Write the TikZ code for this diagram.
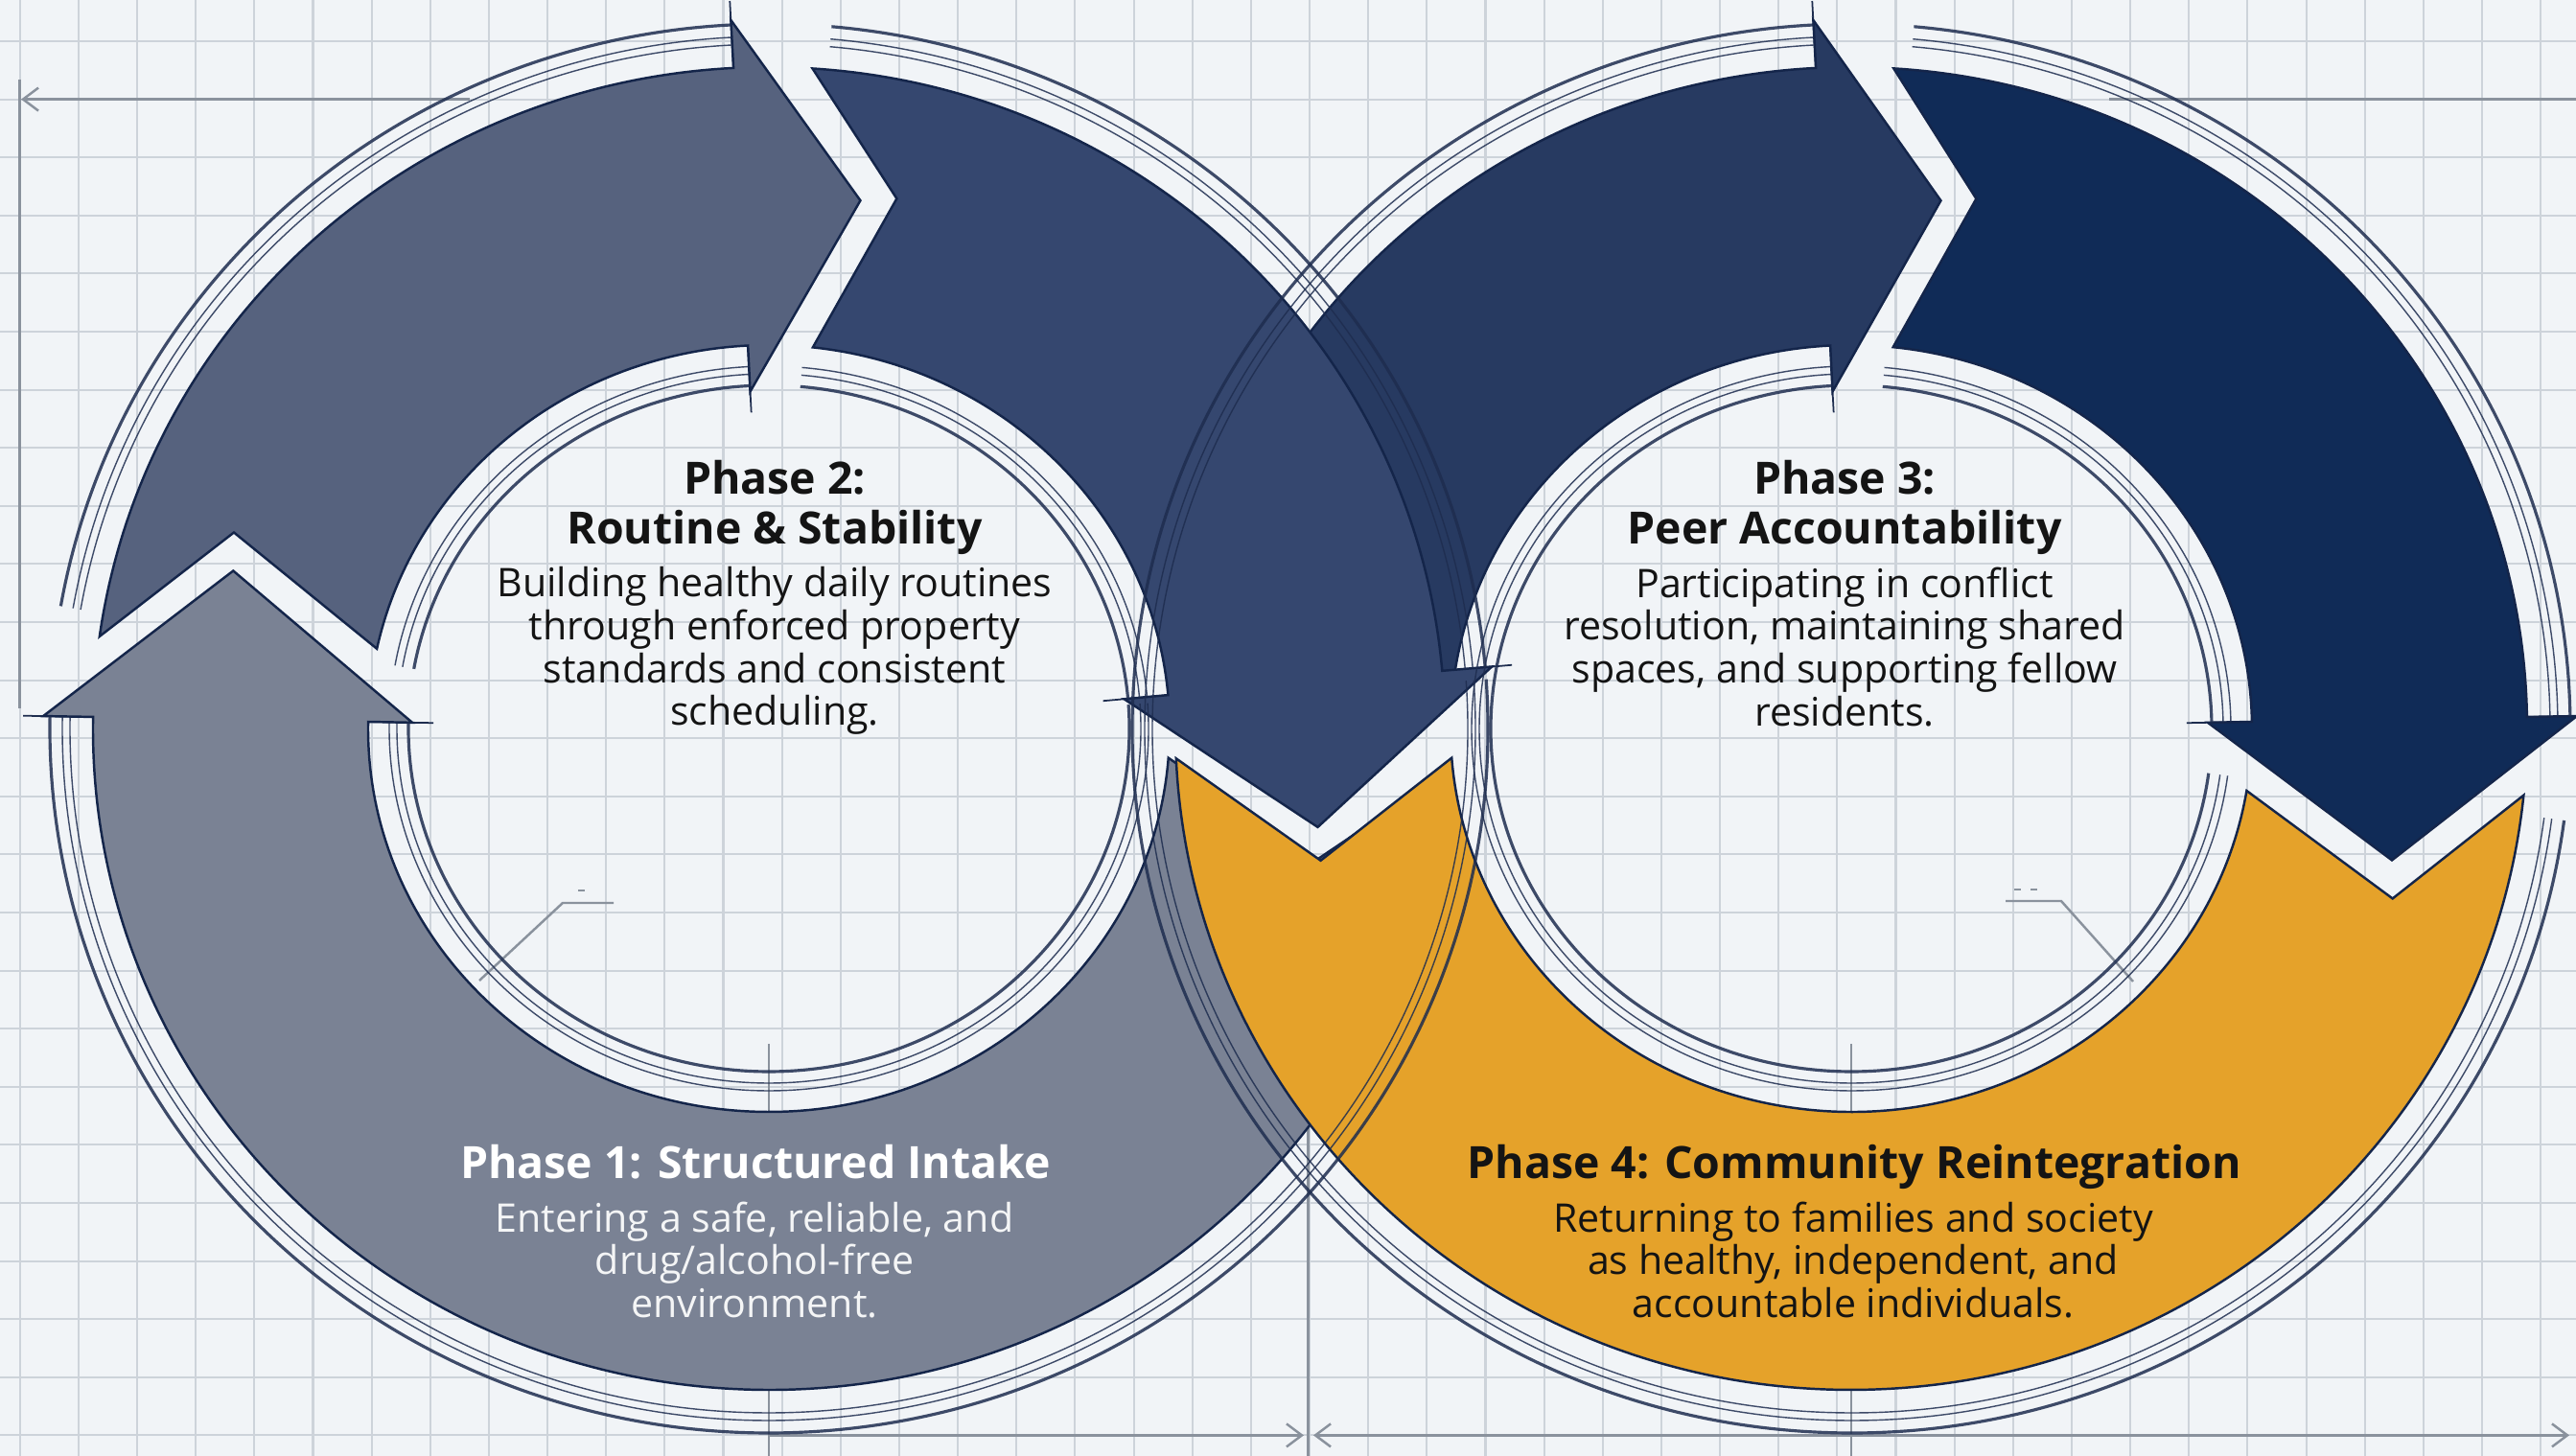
\documentclass[tikz,border=0pt]{standalone}
\usepackage{fontspec}
\setmainfont{Open Sans}
\usetikzlibrary{calc,arrows.meta}

\definecolor{paper}{HTML}{F1F4F7}
\definecolor{gridgrey}{HTML}{CDD3DA}
\definecolor{dimgrey}{HTML}{8A929D}
\definecolor{guide}{HTML}{1E2D4F}
\definecolor{edge}{HTML}{14254A}
\definecolor{phaseone}{HTML}{7A8294}
\definecolor{phasetwo}{HTML}{56627E}
\definecolor{bluemid}{HTML}{35476F}
\definecolor{phasethree}{HTML}{273A61}
\definecolor{navy}{HTML}{102B57}
\definecolor{amber}{HTML}{E5A22A}
\definecolor{ink}{HTML}{141414}

\tikzset{
  band/.style={draw=edge, line width=0.7pt},
  basetick/.style={draw=guide, line width=0.5pt},
  guideline/.style={draw=guide, draw opacity=0.85},
  gridline/.style={draw=gridgrey, line width=0.6pt},
  dimline/.style={draw=dimgrey, line width=0.7pt},
  titletext/.style={font=\bfseries\fontsize{13.2}{14.8}\selectfont, align=center, inner sep=0pt, text=ink},
  bodytext/.style={font=\fontsize{11.7}{12.7}\selectfont, align=center, inner sep=0pt, text=ink},
}

% band arrow on one ring: fill, centre, tail angle (outer), tail angle (inner),
% head angle, head length, tail point, name of the tip
\newcommand{\bandarrow}[8]{%
  \draw[basetick] ($(#2)+(#5:7.78cm and 7.6cm)$) -- ($(#2)+(#5:3.5cm and 3.3cm)$);
  \draw[band, fill=#1] ($(#2)+(#3:7.05cm and 6.9cm)$)
    arc[start angle=#3, end angle=#5, x radius=7.05cm, y radius=6.9cm]
    -- ($(#2)+(#5:7.57cm and 7.4cm)$)
    -- ($(#2)+(#5:5.615cm and 5.45cm)+(#5-90:#6)$) coordinate (#8)
    -- ($(#2)+(#5:3.72cm and 3.52cm)$)
    -- ($(#2)+(#5:4.18cm and 4cm)$)
    arc[start angle=#5, end angle=#4, x radius=4.18cm, y radius=4cm]
    -- #7 -- cycle;
}

% thin and thick guide rings beside a band
\newcommand{\guidearcs}[3]{%
  \foreach \gx/\gy/\gw in {7.29/7.14/0.4pt, 7.37/7.22/0.4pt, 7.5/7.35/0.9pt,
                           3.96/3.78/0.4pt, 3.88/3.7/0.4pt, 3.76/3.58/0.9pt}
    \draw[guideline, line width=\gw] ($(#1)+(#2:\gx cm and \gy cm)$)
      arc[start angle=#2, end angle=#3, x radius=\gx cm, y radius=\gy cm];
}

\begin{document}
\begin{tikzpicture}[>={Straight Barb[length=1.6mm,width=2.4mm]}]
  \useasboundingbox (0,0) rectangle (26.87,15.19);
  \fill[paper] (0,0) rectangle (26.87,15.19);

  % grid
  \foreach \i in {0,...,43}
    \draw[gridline] ({0.207+0.6115*\i},0) -- ({0.207+0.6115*\i},15.19);
  \foreach \j in {0,...,24}
    \draw[gridline] (0,{14.76-0.606*\j}) -- (26.87,{14.76-0.606*\j});

  \coordinate (L) at (8.02,7.59);
  \coordinate (R) at (19.31,7.59);

  % dimension lines
  \draw[dimline, <-] (0.22,14.154) -- (4.9,14.154);
  \draw[dimline] (0.207,14.36) -- (0.207,7.8);
  \draw[dimline] (22.0,14.154) -- (26.87,14.154);
  \draw[dimline, ->] (8.02,0.216) -- (13.6,0.216);
  \draw[dimline, <->] (13.7,0.216) -- (26.8,0.216);
  \draw[dimline] (8.02,4.3) -- (8.02,0);
  \draw[dimline] (19.31,4.3) -- (19.31,0);
  \draw[dimline] (13.645,4.3) -- (13.645,0);
  \draw[dimline] (5.0,4.96) -- (5.87,5.77) -- (6.4,5.77);
  \draw[dimline] (6.03,5.9) -- (6.1,5.9);
  \draw[dimline] (22.25,4.95) -- (21.5,5.79) -- (20.92,5.79);
  \draw[dimline] (21.01,5.91) -- (21.08,5.91) (21.18,5.91) -- (21.25,5.91);

  % left ring
  \bandarrow{phaseone}{L}{-4}{-4.4}{-181}{1.55}{(13.72,6.21)}{tipone}
  \bandarrow{phasetwo}{L}{172}{168}{93}{1.25}{($(tipone)+(89:0.4)$)}{tiptwo}
  % right ring, upper half
  \bandarrow{phasethree}{R}{176}{173}{93}{1.23}{($(R)+(174.5:5.615cm and 5.45cm)$)}{tipthree}
  \bandarrow{bluemid}{L}{86.3}{83.7}{5}{1.51}{($(tiptwo)+(3:0.38)$)}{tipleft}
  \bandarrow{navy}{R}{86.4}{84}{1}{1.47}{($(tipthree)+(3:0.37)$)}{tipnavy}
  % phase 4 band
  \draw[band, fill=amber] ($(R)+(182.6:7.05cm and 6.9cm)$)
    arc[start angle=182.6, end angle=354.2, x radius=7.05cm, y radius=6.9cm]
    -- ($(tipnavy)+(-89:0.4)$)
    -- ($(R)+(350.65:4.18cm and 4cm)$)
    arc[start angle=350.65, end angle=184.4, x radius=4.18cm, y radius=4cm]
    -- ($(tipleft)+(-85:0.35)$) -- cycle;

  % guide rings
  \guidearcs{L}{4}{-181}
  \guidearcs{L}{170}{93}
  \guidearcs{L}{85}{5}
  \guidearcs{R}{174.5}{93}
  \guidearcs{R}{85}{1}
  \guidearcs{R}{174.5}{352.5}

  % texts
  \node[titletext, anchor=north] (t2) at (8.08,10.39) {Phase 2:\\Routine \& Stability};
  \node[bodytext, anchor=north] (b2) at (8.08,9.28) {Building healthy daily routines\\through enforced property\\standards and consistent\\scheduling.};
  \node[titletext, anchor=north] (t3) at (19.24,10.39) {Phase 3:\\Peer Accountability};
  \node[bodytext, anchor=north] (b3) at (19.24,9.28) {Participating in conflict\\resolution, maintaining shared\\spaces, and supporting fellow\\residents.};
  \node[titletext, anchor=north, text=white] (t1) at (7.88,3.25) {Phase 1: Structured Intake};
  \node[bodytext, anchor=north, text=white!92!phaseone] (b1) at (7.87,2.66) {Entering a safe, reliable, and\\drug/alcohol-free\\environment.};
  \node[titletext, anchor=north] (t4) at (19.34,3.25) {Phase 4: Community Reintegration};
  \node[bodytext, anchor=north] (b4) at (19.33,2.66) {Returning to families and society\\as healthy, independent, and\\accountable individuals.};
\end{tikzpicture}
\end{document}
